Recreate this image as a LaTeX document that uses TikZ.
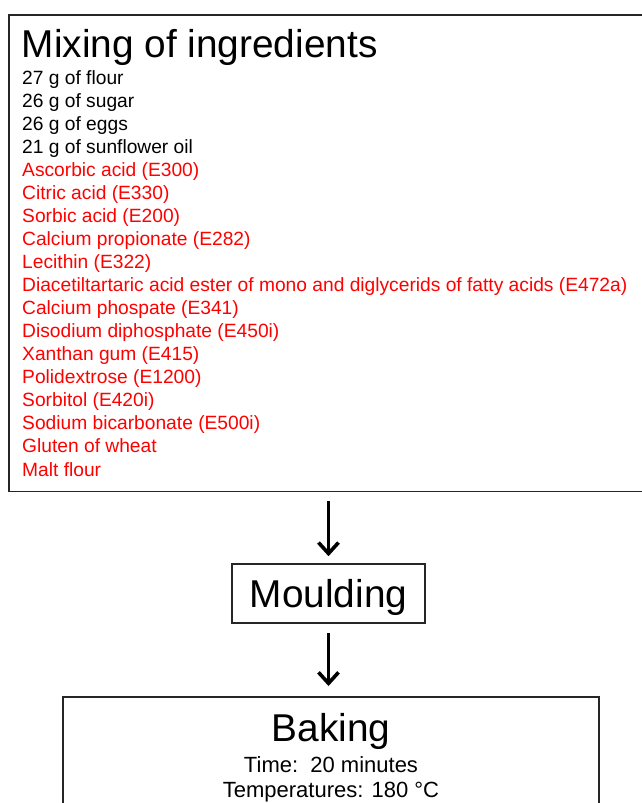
\documentclass[tikz,border=0pt]{standalone}
\usepackage{fontspec}
\setmainfont{Liberation Sans}
\usetikzlibrary{arrows.meta}
\definecolor{ingred}{RGB}{255,0,0}
\begin{document}
\begin{tikzpicture}[x=1pt,y=-1pt,
  boxstyle/.style={draw=black!85,line width=1.8pt,inner sep=0pt,outer sep=0pt},
  titletext/.style={inner sep=0pt,font=\fontsize{38.8}{40}\selectfont},
  itemtext/.style={inner sep=0pt,anchor=base west,font=\fontsize{19.2}{22}\selectfont},
  redtext/.style={itemtext,text=ingred},
  subtext/.style={inner sep=0pt,anchor=base,font=\fontsize{22}{24}\selectfont},
  flow/.style={line width=3.6pt,-{Straight Barb[length=11pt,width=20pt,line width=3.6pt]}}]
\clip (0,0) rectangle (642,803);
\fill[white] (0,0) rectangle (642,803);
% top box
\node[boxstyle,anchor=north west,minimum width=660pt,minimum height=476.5pt] (mix) at (9,15) {};
\node[titletext,anchor=base west] (mixtitle) at (21.5,57.5) {Mixing of ingredients};
\node[itemtext] (i1) at (22,84) {27 g of flour};
\node[itemtext] (i2) at (22,107.06) {26 g of sugar};
\node[itemtext] (i3) at (22,130.12) {26 g of eggs};
\node[itemtext] (i4) at (22,153.18) {21 g of sunflower oil};
\node[redtext] (i5) at (22,176.24) {Ascorbic acid (E300)};
\node[redtext] (i6) at (22,199.3) {Citric acid (E330)};
\node[redtext] (i7) at (22,222.36) {Sorbic acid (E200)};
\node[redtext] (i8) at (22,245.42) {Calcium propionate (E282)};
\node[redtext] (i9) at (22,268.48) {Lecithin (E322)};
\node[redtext] (i10) at (22,291.54) {Diacetiltartaric acid ester of mono and diglycerids of fatty acids (E472a)};
\node[redtext] (i11) at (22,314.6) {Calcium phospate (E341)};
\node[redtext] (i12) at (22,337.66) {Disodium diphosphate (E450i)};
\node[redtext] (i13) at (22,360.72) {Xanthan gum (E415)};
\node[redtext] (i14) at (22,383.78) {Polidextrose (E1200)};
\node[redtext] (i15) at (22,406.84) {Sorbitol (E420i)};
\node[redtext] (i16) at (22,429.9) {Sodium bicarbonate (E500i)};
\node[redtext] (i17) at (22,452.96) {Gluten of wheat};
\node[redtext] (i18) at (22,476) {Malt flour};
% moulding
\node[boxstyle,minimum width=193.6pt,minimum height=58.6pt,text height=27pt,text depth=0pt,
  font=\fontsize{38.8}{40}\selectfont] (mould) at (328.5,593.5) {Moulding};
% baking
\node[boxstyle,anchor=north,minimum width=536pt,minimum height=150pt] (bake) at (331,697) {};
\node[titletext,anchor=base] (baketitle) at (331,741) {Baking};
\node[subtext] (time) at (331,772) {Time:\ \ 20 minutes};
\node[subtext] (temp) at (331,797) {Temperatures: 180 °C};
% arrows
\draw[flow,shorten <=9.5pt,shorten >=8pt] (mould.north |- mix.south) -- (mould.north);
\draw[flow,shorten <=10pt,shorten >=11pt] (mould.south) -- (mould.south |- bake.north);
\end{tikzpicture}
\end{document}
